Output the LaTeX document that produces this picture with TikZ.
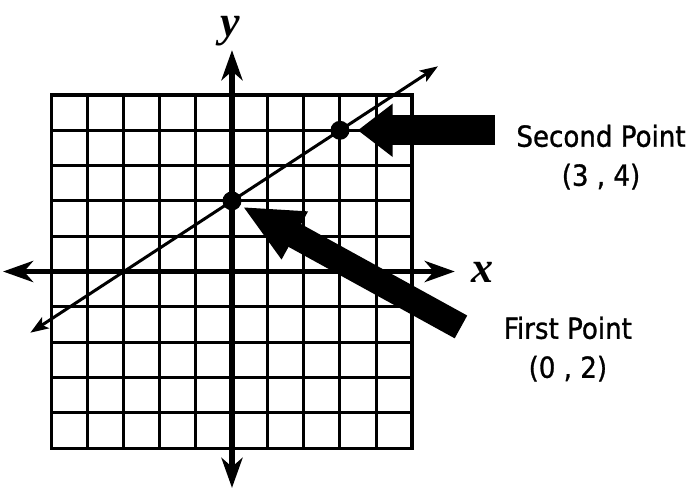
\documentclass[tikz,border=0pt]{standalone}
\usepackage{fontspec}
\usepackage{tikz}
\usetikzlibrary{arrows.meta}
\newfontfamily\labelfont[FakeStretch=0.9, FakeBold=1]{DejaVu Sans}
\newfontfamily\axisfont{Liberation Serif}

\begin{document}
\begin{tikzpicture}[x=36pt, y=35.3pt,
    gridline/.style={line width=3pt},
    axisline/.style={line width=5.5pt, {Stealth[length=30pt,width=21pt,inset=9pt]}-{Stealth[length=30pt,width=21pt,inset=9pt]}},
    graphline/.style={line width=3pt, {Stealth[length=18pt,width=13pt,inset=4pt]}-{Stealth[length=18pt,width=13pt,inset=4pt]}},
    dot/.style={circle, fill=black, minimum size=19pt, inner sep=0pt},
    fatarrow/.style={line width=26pt, -{Triangle[length=60pt,width=50pt]}},
    pointlabel/.style={font=\labelfont\fontsize{29}{39}\selectfont, align=center},
    axislabel/.style={font=\axisfont\bfseries\itshape\fontsize{44}{44}\selectfont, inner sep=0pt}]

    % Page size
    \useasboundingbox (-6.444,-6.161) rectangle (12.833,7.691);

    % Grid
    \draw[gridline, xstep=36pt, ystep=35.3pt] (-5,-5) grid (5,5);
    \draw[gridline] (-5,-5) rectangle (5,5);

    % Axes
    \draw[axisline] (-6.36,0) -- (6.19,0);
    \draw[axisline] (0,-6.13) -- (0,6.27);
    \node[axislabel] (xlabel) at (6.97,-0.03) {x};
    \node[axislabel] (ylabel) at (-0.06,6.8) {y};

    % Line through the two points
    \draw[graphline] (-5.6,-1.733) -- (5.72,5.813);

    % Points
    \node[dot] (first) at (0,2) {};
    \node[dot] (second) at (3,4) {};

    % Labels
    \node[pointlabel] (firstlabel) at (9.33,-2.2) {First Point\\(0 , 2)};
    \node[pointlabel] (secondlabel) at (10.25,3.24) {Second Point\\(3 , 4)};

    % Fat arrows
    \coordinate (firsttail) at (6.36,-1.57);
    \coordinate (secondtail) at (7.31,4);
    \draw[fatarrow, shorten >=2pt] (firsttail) -- (first);
    \draw[fatarrow, line width=30pt, -{Triangle[length=35pt,width=51pt]}, shorten >=8pt] (secondtail) -- (second);

\end{tikzpicture}
\end{document}
